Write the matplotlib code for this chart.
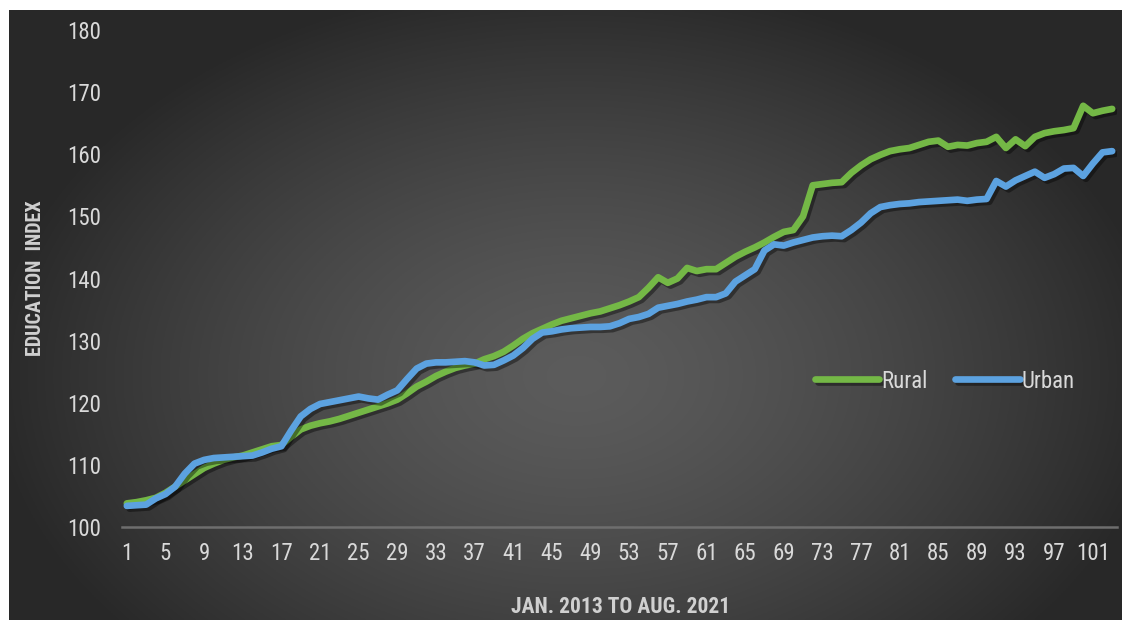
import numpy as np
import matplotlib
matplotlib.use("Agg")
import matplotlib.pyplot as plt
import matplotlib.patheffects as pe
from matplotlib import font_manager

# Monthly index, Jan. 2013 onwards
rural = [
    103.8, 104.0, 104.3, 104.7, 105.5, 106.5, 107.5, 108.5, 109.5, 110.2,
    110.8, 111.2, 111.5, 112.0, 112.5, 113.0, 113.2, 114.5, 115.7, 116.3,
    116.7, 117.0, 117.4, 117.9, 118.4, 118.9, 119.4, 119.9, 120.5, 121.5,
    122.6, 123.4, 124.3, 125.0, 125.6, 126.0, 126.3, 127.0, 127.5, 128.2,
    129.2, 130.3, 131.2, 131.9, 132.6, 133.2, 133.6, 134.0, 134.4, 134.7,
    135.2, 135.7, 136.3, 137.0, 138.5, 140.2, 139.3, 140.0, 141.7, 141.2,
    141.5, 141.5, 142.5, 143.5, 144.3, 145.0, 145.8, 146.7, 147.5, 147.8,
    150.0, 155.0, 155.2, 155.4, 155.5, 157.0, 158.2, 159.2, 159.9, 160.5,
    160.8, 161.0, 161.5, 162.0, 162.2, 161.2, 161.5, 161.4, 161.8, 162.0,
    162.8, 161.0, 162.4, 161.3, 162.8, 163.4, 163.7, 163.9, 164.2, 167.8,
    166.6, 167.0, 167.3,
]
urban = [
    103.4, 103.5, 103.6, 104.6, 105.3, 106.5, 108.6, 110.2, 110.8, 111.1,
    111.2, 111.3, 111.4, 111.5, 112.0, 112.6, 113.0, 115.5, 117.8, 119.0,
    119.8, 120.1, 120.4, 120.7, 121.0, 120.7, 120.5, 121.3, 122.0, 123.8,
    125.5, 126.3, 126.5, 126.5, 126.6, 126.7, 126.5, 126.0, 126.1, 126.8,
    127.6, 128.8, 130.3, 131.3, 131.5, 131.8, 132.0, 132.1, 132.2, 132.2,
    132.3, 132.8, 133.5, 133.8, 134.3, 135.3, 135.6, 135.9, 136.3, 136.6,
    137.0, 137.0, 137.6, 139.5, 140.5, 141.5, 144.5, 145.5, 145.3, 145.8,
    146.2, 146.6, 146.8, 146.9, 146.8, 147.8, 149.0, 150.5, 151.5, 151.8,
    152.0, 152.1, 152.3, 152.4, 152.5, 152.6, 152.7, 152.5, 152.7, 152.8,
    155.7, 154.8, 155.8, 156.5, 157.2, 156.2, 156.8, 157.7, 157.8, 156.5,
    158.5, 160.3, 160.5,
]
months = list(range(1, len(rural) + 1))
x_ticks = list(range(1, 102, 4))
y_ticks = list(range(100, 181, 10))

# narrow Calibri-like face if there is one, Lato otherwise
names = {f.name for f in font_manager.fontManager.ttflist}
FONT = "Lato"
for cand in ["Liberation Sans Narrow", "Roboto Condensed", "Open Sans Condensed"]:
    if cand in names:
        FONT = cand
        break
plt.rcParams["font.family"] = [FONT, "DejaVu Sans"]

W, H = 1135, 630
fig = plt.figure(figsize=(W / 100, H / 100), dpi=100, facecolor="white")

# dark radial background panel
bg = fig.add_axes([9 / W, 10 / H, (1122 - 9) / W, (620 - 10) / H])
bg.set_axis_off()
gx, gy = np.meshgrid(np.linspace(-1, 1, 600), np.linspace(-1, 1, 340))
r = np.sqrt(((gx - 0.02) / 1.05) ** 2 + ((gy + 0.2) / 1.3) ** 2)
r = np.clip(r, 0, 1)
shade = 0.36 - 0.2 * r ** 1.4
img = np.dstack([shade, shade, shade])
bg.imshow(img, aspect="auto", origin="lower", extent=[0, 1, 0, 1])

ax = fig.add_axes([122 / W, 1 - 527 / H, (1117 - 122) / W, (527 - 30) / H])
ax.set_facecolor("none")

shadow = [pe.SimpleLineShadow(offset=(2, -2), shadow_color="black", alpha=0.4), pe.Normal()]
ax.plot(months, rural, color="#74b846", lw=4.8, solid_joinstyle="round",
        solid_capstyle="round", label="Rural", path_effects=shadow)
ax.plot(months, urban, color="#5ca2e0", lw=4.8, solid_joinstyle="round",
        solid_capstyle="round", label="Urban", path_effects=shadow)

ax.set_xlim(0.5, len(months) + 0.5)
ax.set_ylim(100, 180)
ax.set_xticks(x_ticks)
ax.set_yticks(y_ticks)
for s in ["top", "right", "left"]:
    ax.spines[s].set_visible(False)
ax.spines["bottom"].set_color("#6e6e6e")
ax.spines["bottom"].set_linewidth(1.8)
ax.tick_params(axis="both", length=0, labelcolor="#d9d9d9", labelsize=16.5)
ax.tick_params(axis="y", pad=15)
ax.tick_params(axis="x", pad=11)

fig.text(36 / W, 1 - 278 / H, "EDUCATION  INDEX", rotation=90, ha="center", va="center",
         color="#d0d0d0", fontsize=14.5, fontweight="bold")
fig.text(621 / W, 1 - 607 / H, "JAN. 2013 TO AUG. 2021", ha="center", va="center",
         color="#d0d0d0", fontsize=15.5, fontweight="bold")

leg = ax.legend(loc="center", bbox_to_anchor=(945 / W, 1 - 381 / H),
                bbox_transform=fig.transFigure, ncol=2, frameon=False,
                fontsize=16.5, handlelength=2.8, handletextpad=0.1, columnspacing=1.2)
for t in leg.get_texts():
    t.set_color("#d9d9d9")

fig.savefig("out.png", dpi=100, facecolor="white")
